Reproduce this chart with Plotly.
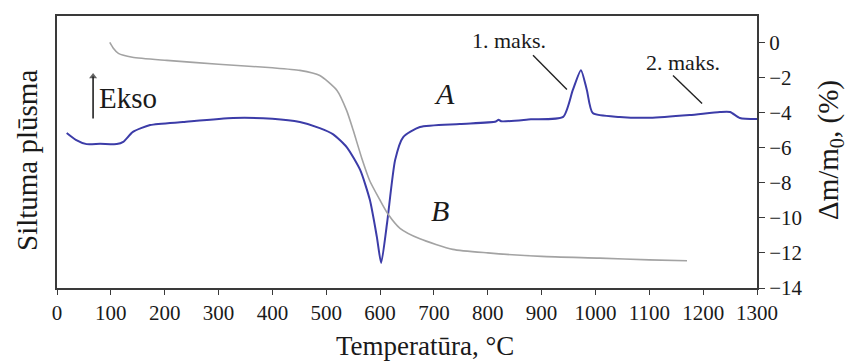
import plotly.graph_objects as go

# DTA curve (heat flow, arbitrary units, left axis)
T_dta = [18, 35, 55, 80, 111, 123, 141, 173, 234, 327, 400, 451, 488, 513, 538, 563, 581, 594, 602,
         613, 628, 643, 674, 748, 815, 820, 825, 880, 940, 958, 973, 984, 995, 1045, 1101, 1175,
         1231, 1250, 1268, 1300]
dta = [57.0, 54.5, 52.9, 53.0, 52.9, 53.7, 57.4, 59.9, 61.0, 62.5, 62.2, 61.0, 58.8, 56.5, 51.8, 43.4,
       32.4, 18.8, 9.2, 23.9, 47.1, 55.5, 59.2, 60.3, 61.2, 61.9, 61.3, 62.0, 62.9, 72.8, 80.1, 72.8,
       64.3, 62.9, 62.6, 63.6, 64.7, 64.7, 62.5, 62.1]

# TG curve (mass change, %, right axis)
T_tg = [98, 105, 114, 140, 204, 300, 400, 451, 488, 520, 538, 550, 566, 581, 600, 615, 637, 674,
        735, 800, 900, 1008, 1100, 1170]
tg = [0, -0.35, -0.63, -0.85, -1.03, -1.25, -1.45, -1.6, -1.89, -2.74, -3.89, -5.0, -6.6, -7.9,
      -9.0, -9.8, -10.6, -11.2, -11.8, -12.0, -12.2, -12.3, -12.4, -12.45]

# "Ekso" direction arrow (temperature, mass-axis values)
ekso_T = [67, 67]
ekso_v = [-4.34, -1.95]

x_ticks = list(range(0, 1301, 100))
y2_ticks = list(range(0, -15, -2))

FONT = "Liberation Serif"
AX = "#3a3a3a"

fig = go.Figure()
fig.add_trace(go.Scatter(x=T_tg, y=tg, mode="lines", yaxis="y2",
                         line=dict(color="#a3a3a3", width=1.6, shape="spline", smoothing=0.6),
                         showlegend=False, hoverinfo="skip"))
fig.add_trace(go.Scatter(x=T_dta, y=dta, mode="lines", yaxis="y",
                         line=dict(color="#3c3ca8", width=2, shape="spline", smoothing=0.6),
                         showlegend=False, hoverinfo="skip"))
fig.add_trace(go.Scatter(x=ekso_T, y=ekso_v, mode="lines+markers", yaxis="y2",
                         line=dict(color="#222", width=1.6),
                         marker=dict(symbol=["circle", "triangle-up"], size=[0, 7], color="#222",
                                     line=dict(width=0)),
                         showlegend=False, hoverinfo="skip"))

fig.update_layout(
    width=847, height=362,
    margin=dict(l=57, r=90, t=16, b=74),
    plot_bgcolor="white", paper_bgcolor="white",
    font=dict(family=FONT, color="#1a1a1a"),
    xaxis=dict(range=[0, 1300], tickvals=x_ticks, ticks="outside", ticklen=5, tickcolor=AX,
               showline=True, linecolor=AX, linewidth=2, mirror=True, showgrid=False,
               zeroline=False, tickfont=dict(size=21, family=FONT)),
    yaxis=dict(range=[0, 100], showticklabels=False, ticks="", showline=True, linecolor=AX,
               linewidth=2, mirror=True, showgrid=False, zeroline=False),
    yaxis2=dict(range=[-14, 1.5], overlaying="y", side="right", tickvals=y2_ticks,
                ticks="outside", ticklen=6, tickcolor=AX, showline=True, linecolor=AX,
                linewidth=2, showgrid=False, zeroline=False,
                tickfont=dict(size=21, family=FONT)),
)

ann = []
# axis titles
ann.append(dict(text="Temperatūra, °C", xref="paper", yref="paper", x=(425 - 57) / 700,
                y=-(346 - 288) / 272, xanchor="center", yanchor="middle", showarrow=False,
                font=dict(size=27, family=FONT)))
ann.append(dict(text="Siltuma plūsma", xref="paper", yref="paper", x=-(57 - 27) / 700,
                y=(288 - 161) / 272, xanchor="center", yanchor="middle", textangle=-90,
                showarrow=False, font=dict(size=29, family=FONT)))
ann.append(dict(text="Δm/m<sub>0</sub>, (%)", xref="paper", yref="paper", x=1 + (830 - 757) / 700,
                y=(288 - 150) / 272, xanchor="center", yanchor="middle", textangle=-90,
                showarrow=False, font=dict(size=29, family=FONT)))
# labels
ann.append(dict(text="1. maks.", x=839, y=0.11, xref="x", yref="y2", showarrow=False,
                font=dict(size=22, family=FONT)))
ann.append(dict(text="2. maks.", x=1162, y=-1.14, xref="x", yref="y2", showarrow=False,
                font=dict(size=22, family=FONT)))
ann.append(dict(text="<i>A</i>", x=720, y=-2.91, xref="x", yref="y2", showarrow=False,
                font=dict(size=30, family=FONT)))
ann.append(dict(text="<i>B</i>", x=711, y=-9.6, xref="x", yref="y2", showarrow=False,
                font=dict(size=30, family=FONT)))
ann.append(dict(text="Ekso", x=74, y=-3.2, xref="x", yref="y2", xanchor="left",
                showarrow=False, font=dict(size=29, family=FONT)))
fig.update_layout(annotations=ann)

fig.add_shape(type="line", xref="x", yref="y2", x0=884, y0=-0.74, x1=947, y1=-2.69,
              line=dict(color="#222", width=1.4))
fig.add_shape(type="line", xref="x", yref="y2", x0=1144, y0=-1.89, x1=1198, y1=-3.49,
              line=dict(color="#222", width=1.4))

fig.write_html("out.html")
